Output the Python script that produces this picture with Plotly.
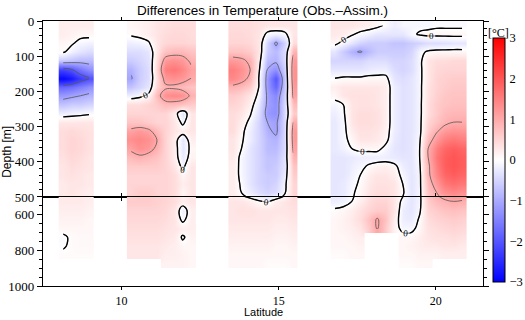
import plotly.graph_objects as go
from plotly.subplots import make_subplots

N = None

# depth bin edges [m] (25 m above 500 m, 50 m below)
depth_edges = [0, 25, 50, 75, 100, 125, 150, 175, 200, 225, 250, 275, 300, 325, 350,
               375, 400, 425, 450, 475, 500, 550, 600, 650, 700, 750, 800, 850, 900, 950]

# latitude bin edges of the four sections
lat_edges_1 = [8.0, 8.28, 8.55, 8.83, 9.1]
lat_edges_2 = [10.17, 10.44, 10.72, 10.99, 11.26, 11.53, 11.81, 12.08, 12.35]
lat_edges_3 = [13.4, 13.68, 13.95, 14.23, 14.5, 14.78, 15.05, 15.33, 15.6]
lat_edges_4 = [16.65, 16.92, 17.19, 17.46, 17.73, 18.0, 18.27, 18.54, 18.81, 19.08,
               19.35, 19.62, 19.89, 20.16, 20.43, 20.7, 20.97]

# temperature differences (Obs. - Assim.) [deg C], one row per depth bin
temp_diff_1 = [
    [0.2, 0.2, 0.2, 0.2],
    [0.2, 0.15, 0.1, 0.1],
    [0.1, 0.05, -0.1, -0.15],
    [0.05, -0.15, -0.3, -0.4],
    [-0.6, -0.7, -0.8, -0.8],
    [-2.2, -2.0, -1.6, -1.3],
    [-2.9, -2.7, -2.3, -2.05],
    [-1.8, -1.7, -1.5, -1.3],
    [-1.2, -1.1, -1.0, -0.9],
    [-0.7, -0.6, -0.6, -0.5],
    [-0.2, -0.15, -0.1, -0.05],
    [0.3, 0.3, 0.3, 0.3],
    [0.4, 0.45, 0.4, 0.35],
    [0.4, 0.5, 0.45, 0.35],
    [0.4, 0.5, 0.45, 0.35],
    [0.35, 0.45, 0.4, 0.3],
    [0.3, 0.4, 0.35, 0.3],
    [0.3, 0.35, 0.3, 0.25],
    [0.25, 0.3, 0.3, 0.25],
    [0.25, 0.3, 0.25, 0.2],
    [0.25, 0.25, 0.25, 0.2],
    [0.2, 0.2, 0.2, 0.15],
    [0.15, 0.15, 0.15, 0.1],
    [0.1, 0.1, 0.1, 0.1],
    [-0.05, 0.05, 0.08, 0.08],
    [-0.03, 0.05, 0.08, 0.08],
    [0.05, 0.05, 0.05, 0.05],
    [N, N, N, N],
    [N, N, N, N],
]

temp_diff_2 = [
    [0.1, 0.15, 0.2, 0.3, 0.35, 0.4, 0.4, 0.4],
    [0.05, 0.1, 0.2, 0.3, 0.4, 0.45, 0.45, 0.4],
    [-0.2, -0.15, -0.05, 0.3, 0.45, 0.5, 0.5, 0.45],
    [-0.4, -0.4, -0.3, 0.3, 0.7, 0.8, 0.8, 0.7],
    [-0.6, -0.5, -0.35, 0.4, 1.2, 1.3, 1.2, 0.9],
    [-0.9, -0.6, -0.4, 0.5, 1.5, 1.6, 1.4, 1.1],
    [-1.05, -0.6, -0.4, 0.4, 1.2, 1.3, 1.2, 1.0],
    [-0.7, -0.5, -0.3, 0.5, 0.9, 0.9, 0.8, 0.7],
    [-0.2, -0.1, 0.1, 0.8, 1.3, 1.4, 1.3, 0.9],
    [0.4, 0.4, 0.5, 0.6, 0.8, 0.8, 0.7, 0.6],
    [0.5, 0.5, 0.5, 0.5, 0.5, 0.2, -0.3, 0.3],
    [0.7, 0.7, 0.6, 0.5, 0.5, 0.3, -0.1, 0.3],
    [1.1, 1.2, 1.1, 0.8, 0.5, 0.3, 0.2, 0.3],
    [1.3, 1.4, 1.3, 1.0, 0.5, 0.2, -0.3, 0.2],
    [1.1, 1.3, 1.2, 0.9, 0.5, 0.2, -0.3, 0.1],
    [0.8, 0.9, 0.8, 0.7, 0.5, 0.2, -0.25, 0.15],
    [0.6, 0.6, 0.6, 0.6, 0.5, 0.3, -0.1, 0.3],
    [0.5, 0.5, 0.5, 0.5, 0.5, 0.4, 0.1, 0.3],
    [0.5, 0.5, 0.5, 0.5, 0.5, 0.4, 0.2, 0.3],
    [0.5, 0.6, 0.6, 0.5, 0.5, 0.4, 0.1, 0.3],
    [0.6, 0.6, 0.6, 0.55, 0.5, 0.4, 0.2, 0.3],
    [0.5, 0.5, 0.5, 0.5, 0.45, 0.3, -0.2, 0.2],
    [0.45, 0.45, 0.45, 0.45, 0.4, 0.3, -0.1, 0.2],
    [0.4, 0.4, 0.4, 0.4, 0.35, 0.3, 0.2, 0.2],
    [0.35, 0.35, 0.35, 0.35, 0.3, 0.25, -0.05, 0.15],
    [0.3, 0.3, 0.3, 0.3, 0.25, 0.2, 0.1, 0.1],
    [0.3, 0.3, 0.3, 0.3, 0.2, 0.2, 0.15, 0.1],
    [N, N, N, N, 0.15, 0.15, 0.15, 0.1],
    [N, N, N, N, N, N, N, N],
]

temp_diff_3 = [
    [0.4, 0.4, 0.4, 0.35, 0.3, 0.3, 0.3, 0.3],
    [0.45, 0.45, 0.4, 0.3, -0.1, -0.2, -0.1, 0.3],
    [0.5, 0.5, 0.45, 0.3, -0.5, -1.1, -0.5, 0.4],
    [0.7, 0.7, 0.6, 0.3, -0.6, -0.8, -0.4, 0.9],
    [1.2, 1.1, 0.9, 0.2, -0.8, -0.9, -0.4, 1.2],
    [1.5, 1.3, 1.0, 0.1, -1.0, -1.3, -0.5, 1.3],
    [1.4, 1.2, 0.9, 0.0, -1.2, -2.0, -0.6, 1.3],
    [0.9, 0.8, 0.6, 0.0, -1.2, -1.8, -0.6, 1.2],
    [0.6, 0.5, 0.3, -0.1, -1.1, -1.4, -0.5, 1.1],
    [0.5, 0.4, 0.2, -0.3, -1.1, -1.3, -0.4, 0.8],
    [0.4, 0.3, 0.05, -0.4, -1.2, -1.3, -0.4, 0.6],
    [0.4, 0.2, -0.1, -0.5, -1.0, -1.1, -0.4, 1.0],
    [0.4, 0.1, -0.2, -0.5, -0.9, -1.1, -0.4, 1.2],
    [0.3, 0.05, -0.2, -0.5, -0.8, -0.9, -0.4, 1.2],
    [0.3, 0.0, -0.3, -0.5, -0.8, -0.8, -0.4, 1.1],
    [0.25, -0.1, -0.3, -0.5, -0.7, -0.7, -0.3, 0.9],
    [0.2, -0.1, -0.3, -0.5, -0.7, -0.6, -0.3, 0.7],
    [0.2, -0.1, -0.3, -0.5, -0.6, -0.6, -0.2, 0.6],
    [0.2, -0.05, -0.3, -0.5, -0.6, -0.5, -0.1, 0.5],
    [0.2, 0.0, -0.2, -0.4, -0.5, -0.4, -0.05, 0.5],
    [0.3, 0.3, 0.2, 0.05, -0.05, 0.2, 0.3, 0.4],
    [0.3, 0.35, 0.35, 0.3, 0.3, 0.3, 0.3, 0.35],
    [0.3, 0.3, 0.3, 0.3, 0.3, 0.25, 0.25, 0.3],
    [0.25, 0.25, 0.25, 0.25, 0.25, 0.2, 0.2, 0.25],
    [0.2, 0.2, 0.2, 0.2, 0.2, 0.15, 0.15, 0.2],
    [0.15, 0.15, 0.15, 0.15, 0.15, 0.1, 0.1, 0.15],
    [0.1, 0.1, 0.1, 0.1, 0.1, 0.1, 0.1, 0.1],
    [0.1, 0.1, 0.1, 0.1, 0.05, 0.05, 0.05, 0.1],
    [N, N, N, N, N, N, N, N],
]

temp_diff_4 = [
    [0.3, 0.3, 0.3, 0.25, 0.2, 0.1, -0.05, -0.2, -0.1, -0.1, -0.1, -0.1, -0.05, -0.05, -0.05, -0.05],
    [0.25, 0.2, 0.05, -0.1, -0.2, -0.3, -0.3, -0.3, -0.3, -0.1, 0.05, 0.1, 0.1, 0.1, 0.1, 0.1],
    [0.1, -0.1, -0.3, -0.5, -0.6, -0.6, -0.6, -0.7, -0.7, -0.6, -0.5, -0.4, -0.4, -0.35, -0.3, -0.3],
    [-0.3, -0.6, -0.9, -1.05, -0.8, -0.6, -0.6, -0.6, -0.6, -0.5, -0.1, 0.05, 0.1, 0.1, 0.1, 0.1],
    [-0.5, -0.5, -0.5, -0.5, -0.4, -0.4, -0.4, -0.5, -0.5, -0.4, -0.1, 0.3, 0.4, 0.4, 0.45, 0.45],
    [-0.3, -0.3, -0.3, -0.3, -0.25, -0.2, -0.2, -0.4, -0.5, -0.4, -0.1, 0.3, 0.45, 0.5, 0.5, 0.5],
    [0.0, 0.05, 0.05, 0.05, 0.1, 0.1, 0.1, -0.3, -0.4, -0.3, -0.1, 0.3, 0.5, 0.55, 0.6, 0.6],
    [0.2, 0.3, 0.3, 0.3, 0.3, 0.3, 0.2, -0.2, -0.35, -0.3, -0.1, 0.35, 0.5, 0.6, 0.65, 0.65],
    [0.1, 0.3, 0.35, 0.35, 0.35, 0.3, 0.2, -0.2, -0.35, -0.3, -0.1, 0.35, 0.55, 0.65, 0.7, 0.7],
    [-0.1, 0.0, 0.3, 0.35, 0.35, 0.3, 0.2, -0.2, -0.35, -0.3, -0.1, 0.4, 0.6, 0.7, 0.75, 0.75],
    [-0.2, -0.05, 0.3, 0.4, 0.4, 0.35, 0.2, -0.2, -0.35, -0.3, -0.1, 0.4, 0.6, 0.8, 0.85, 0.85],
    [-0.25, -0.1, 0.3, 0.4, 0.4, 0.35, 0.2, -0.2, -0.35, -0.3, -0.1, 0.5, 0.7, 0.9, 1.0, 1.0],
    [-0.25, -0.1, 0.2, 0.35, 0.35, 0.3, 0.15, -0.2, -0.35, -0.3, -0.1, 0.6, 0.95, 1.2, 1.3, 1.25],
    [-0.25, -0.1, 0.1, 0.3, 0.3, 0.25, 0.1, -0.25, -0.35, -0.3, -0.05, 0.8, 1.2, 1.5, 1.6, 1.5],
    [-0.25, -0.15, 0.0, 0.1, 0.1, 0.1, -0.1, -0.3, -0.35, -0.3, 0.0, 1.0, 1.5, 1.8, 1.9, 1.8],
    [-0.3, -0.3, -0.25, -0.2, -0.2, -0.2, -0.2, -0.25, -0.3, -0.3, 0.0, 1.0, 1.6, 1.9, 2.0, 1.9],
    [-0.3, -0.3, -0.2, -0.1, 0.05, 0.15, 0.2, 0.1, -0.2, -0.3, -0.05, 0.9, 1.5, 1.9, 2.0, 1.9],
    [-0.3, -0.3, -0.15, 0.0, 0.2, 0.3, 0.3, 0.2, -0.1, -0.3, -0.1, 0.9, 1.4, 1.8, 1.9, 1.8],
    [-0.3, -0.25, -0.1, 0.05, 0.25, 0.35, 0.35, 0.3, 0.0, -0.3, -0.1, 0.8, 1.2, 1.6, 1.7, 1.6],
    [-0.3, -0.25, -0.05, 0.1, 0.3, 0.4, 0.4, 0.3, 0.05, -0.3, -0.1, 0.7, 1.0, 1.3, 1.4, 1.3],
    [-0.2, -0.15, 0.0, 0.2, 0.4, 0.5, 0.5, 0.3, -0.1, -0.3, -0.1, 0.6, 0.8, 0.9, 1.0, 0.95],
    [0.05, 0.1, 0.2, 0.35, 0.5, 0.6, 0.6, 0.3, -0.2, -0.3, -0.05, 0.5, 0.6, 0.7, 0.75, 0.7],
    [0.1, 0.15, 0.25, 0.4, 0.7, 1.05, 0.7, 0.2, -0.2, -0.25, 0.05, 0.4, 0.5, 0.55, 0.6, 0.55],
    [0.1, 0.15, 0.2, 0.3, 0.6, 1.05, 0.6, 0.15, -0.1, -0.1, 0.1, 0.35, 0.4, 0.45, 0.5, 0.45],
    [0.1, 0.1, 0.15, 0.2, N, N, N, N, 0.1, 0.1, 0.2, 0.3, 0.35, 0.35, 0.4, 0.35],
    [0.1, 0.1, 0.1, 0.15, N, N, N, N, 0.1, 0.15, 0.2, 0.25, 0.25, 0.3, 0.3, 0.25],
    [0.05, 0.05, 0.1, 0.1, N, N, N, N, 0.1, 0.1, 0.15, 0.15, 0.15, 0.2, 0.2, 0.2],
    [N, N, N, N, N, N, N, N, 0.05, 0.05, 0.1, 0.1, N, N, N, N],
    [N, N, N, N, N, N, N, N, N, N, N, N, N, N, N, N],
]

sections = [
    (lat_edges_1, temp_diff_1),
    (lat_edges_2, temp_diff_2),
    (lat_edges_3, temp_diff_3),
    (lat_edges_4, temp_diff_4),
]


def centers(edges):
    return [(a + b) / 2 for a, b in zip(edges[:-1], edges[1:])]


SERIF = "Liberation Serif, Times New Roman, serif"
SANS = "Liberation Sans, Arial, sans-serif"

fig = make_subplots(rows=2, cols=1, shared_xaxes=True, vertical_spacing=0,
                    row_heights=[0.664, 0.336])

depth_c = centers(depth_edges)
for row in (1, 2):
    for lat_edges, z in sections:
        fig.add_trace(go.Heatmap(x=lat_edges, y=depth_edges, z=z, coloraxis="coloraxis",
                                 zsmooth="best", hoverinfo="skip"), row=row, col=1)
    for lat_edges, z in sections:
        lat_c = centers(lat_edges)
        # thin lines at +-1, -2
        fig.add_trace(go.Contour(x=lat_c, y=depth_c, z=z, autocontour=False, showscale=False,
                                 contours=dict(start=-2, end=2, size=1, coloring="none"),
                                 line=dict(color="#555555", width=0.8), hoverinfo="skip"),
                      row=row, col=1)
        # thick zero line with labels
        fig.add_trace(go.Contour(x=lat_c, y=depth_c, z=z, autocontour=False, showscale=False,
                                 contours=dict(start=0, end=0, size=1, coloring="none",
                                               showlabels=True,
                                               labelfont=dict(family=SERIF, size=9, color="black")),
                                 line=dict(color="black", width=1.4), hoverinfo="skip"),
                      row=row, col=1)

fig.update_layout(
    width=525, height=320,
    margin=dict(l=43, r=42, t=21, b=34, autoexpand=False),
    plot_bgcolor="white", paper_bgcolor="white",
    showlegend=False,
    font=dict(family=SERIF, size=13, color="black"),
    title=dict(text="Differences in Temperature (Obs.\u2013Assim.)", x=0.5, xanchor="center",
               y=0.968, yanchor="middle", font=dict(family=SANS, size=13.5)),
    coloraxis=dict(
        cmin=-3, cmax=3,
        colorscale=[[0, "rgb(0,0,255)"], [0.5, "rgb(255,255,255)"], [1, "rgb(255,0,0)"]],
        colorbar=dict(x=1.0227, xanchor="left", y=0.4755, yanchor="middle", len=0.921,
                      thickness=12, xpad=0, ypad=0, outlinewidth=1, outlinecolor="black",
                      tickvals=[-3, -2, -1, 0, 1, 2, 3], ticks="outside", ticklen=2,
                      tickcolor="white", tickfont=dict(family=SERIF, size=12.5)),
    ),
)

axis_style = dict(showline=True, linecolor="black", linewidth=1.3, ticks="outside",
                  tickcolor="black", showgrid=False, zeroline=False, mirror="ticks",
                  automargin=False)

fig.update_xaxes(range=[7.5, 21.5], tickvals=[10, 15, 20], ticklen=3, **axis_style)
fig.update_xaxes(showticklabels=False, row=1, col=1)
fig.update_xaxes(tickfont=dict(family=SERIF, size=12), row=2, col=1)

fig.update_yaxes(range=[500, 0], tickvals=[0, 100, 200, 300, 400, 500], ticklen=5,
                 minor=dict(dtick=20, tick0=0, ticklen=3, ticks="outside", tickcolor="black"),
                 tickfont=dict(family=SERIF, size=13), row=1, col=1, **axis_style)
fig.update_yaxes(range=[1000, 500], tickvals=[600, 800, 1000], ticklen=5,
                 minor=dict(dtick=50, tick0=500, ticklen=3, ticks="outside", tickcolor="black"),
                 tickfont=dict(family=SERIF, size=13), row=2, col=1, **axis_style)

fig.add_annotation(text="Depth [m]", xref="paper", yref="paper", x=-0.082, y=0.506,
                   textangle=-90, showarrow=False, font=dict(family=SANS, size=12),
                   xanchor="center", yanchor="middle")
fig.add_annotation(text="Latitude", xref="paper", yref="paper", x=0.5, y=-0.1275,
                   showarrow=False, font=dict(family=SANS, size=11),
                   xanchor="center", yanchor="bottom")
fig.add_annotation(text="[\u00b0C]", xref="paper", yref="paper", x=1.036, y=0.955,
                   showarrow=False, font=dict(family=SERIF, size=12),
                   xanchor="center", yanchor="middle")

# the page's default body margin would shift the 525x320 figure
fig.write_html("out.html", config={"displayModeBar": False},
               post_script="document.body.style.margin = '0';")
